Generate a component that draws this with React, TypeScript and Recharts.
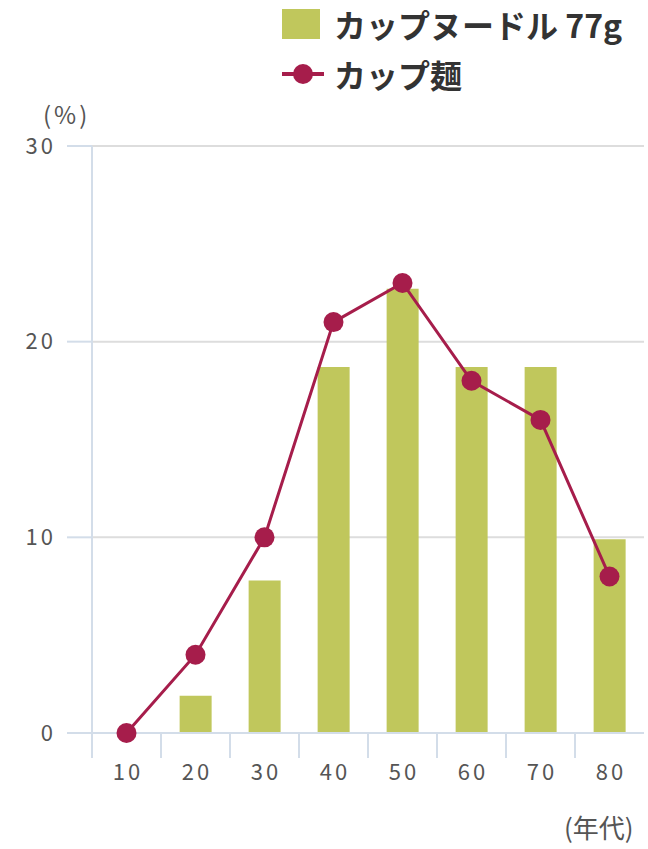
import { Bar, CartesianGrid, ComposedChart, Line, XAxis, YAxis } from "recharts";

const ages = ["10", "20", "30", "40", "50", "60", "70", "80"];
const cupNoodle77g = [0, 1.9, 7.8, 18.7, 22.7, 18.7, 18.7, 9.9];
const cupMen = [0, 4, 10, 21, 23, 18, 16, 8];
const yTicks = [0, 10, 20, 30];

const BAR = "#c0c75c";
const LINE = "#a61d4b";
const AXIS = "#d3dde9";
const FONT = '"Noto Sans CJK JP", "Noto Sans", sans-serif';

const data = ages.map((age, i) => ({ age, noodle: cupNoodle77g[i], men: cupMen[i] }));

/** Label centred in the band, tick mark on the band's left edge (the source chart marks boundaries, not centres). */
function AgeTick(props: any) {
  const { x, y, payload } = props;
  const half = payload?.offset ?? 34.5;
  return (
    <g>
      <line x1={x - half} x2={x - half} y1={y - 30} y2={y - 5} stroke={AXIS} strokeWidth={2} />
      <text x={x + 1.5} y={y} dy="0.75em" textAnchor="middle" fill="#555" fontSize={22} letterSpacing={3} fontFamily={FONT}>
        {payload.value}
      </text>
    </g>
  );
}

function LegendBox() {
  const row = { display: "flex", alignItems: "center", height: 40, fontSize: 32, fontWeight: 600, color: "#333", fontFamily: FONT };
  return (
    <div style={{ position: "absolute", left: 282, top: 4 }}>
      <div style={row}>
        <span style={{ display: "inline-block", width: 38, height: 30, background: BAR, marginRight: 14 }} />
        カップヌードル 77g
      </div>
      <div style={{ ...row, marginTop: 10 }}>
        <svg width={42} height={30} style={{ marginRight: 10 }}>
          <line x1={0} x2={42} y1={15} y2={15} stroke={LINE} strokeWidth={4} />
          <circle cx={21} cy={15} r={10} fill={LINE} />
        </svg>
        カップ麺
      </div>
    </div>
  );
}

export default function App() {
  return (
    <div style={{ position: "absolute", left: 0, top: 0, width: 648, height: 849, background: "#fff", fontFamily: FONT }}>
      <ComposedChart width={648} height={849} data={data} margin={{ top: 146, right: 4, bottom: 86, left: 0 }} barCategoryGap="27%">
        <CartesianGrid horizontal vertical={false} stroke="#dddddd" strokeWidth={2} />
        <XAxis
          dataKey="age"
          tickLine={false}
          tickSize={25}
          tickMargin={5}
          axisLine={{ stroke: AXIS, strokeWidth: 2 }}
          tick={<AgeTick />}
          interval={0}
        />
        <YAxis
          domain={[0, 30]}
          ticks={yTicks}
          width={92}
          tickSize={25}
          tickMargin={11}
          tickLine={{ stroke: AXIS, strokeWidth: 2 }}
          axisLine={{ stroke: AXIS, strokeWidth: 2 }}
          tick={{ fill: "#555", fontSize: 22, fontFamily: FONT, letterSpacing: 3 }}
        />
        <Bar dataKey="noodle" fill={BAR} isAnimationActive={false} />
        <Line
          dataKey="men"
          stroke={LINE}
          strokeWidth={3}
          dot={{ r: 10, fill: LINE, stroke: "none" }}
          activeDot={false}
          isAnimationActive={false}
        />
      </ComposedChart>
      <LegendBox />
      <div style={{ position: "absolute", left: 43, top: 96, fontSize: 24, letterSpacing: 3, color: "#555" }}>(%)</div>
      <div style={{ position: "absolute", left: 564, top: 808, fontSize: 26, color: "#555" }}>(年代)</div>
    </div>
  );
}
